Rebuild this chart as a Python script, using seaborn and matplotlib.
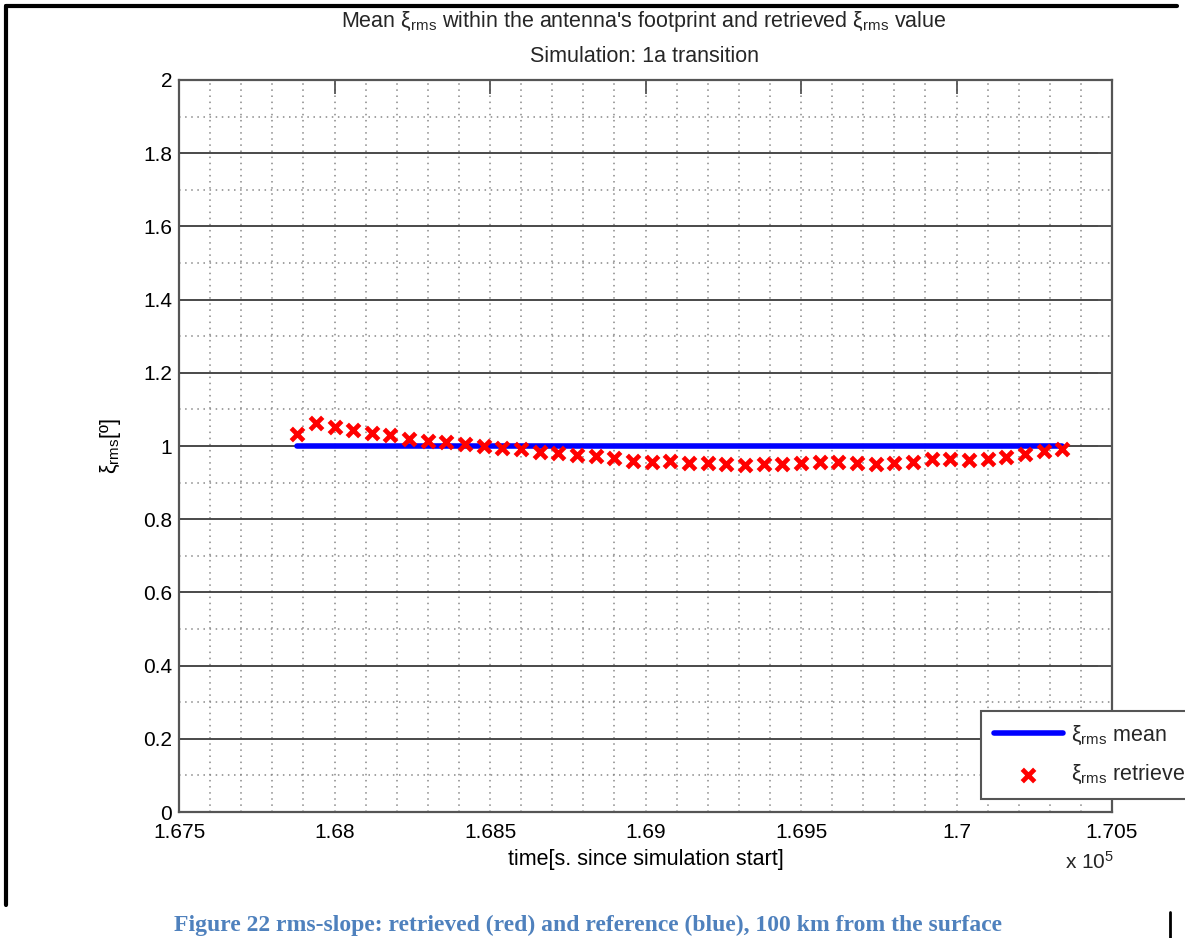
import matplotlib
matplotlib.use("Agg")
import matplotlib.pyplot as plt
from matplotlib.lines import Line2D
from matplotlib.ticker import MultipleLocator
import seaborn as sns
import pandas as pd

# Retrieval epochs [s since simulation start] and retrieved rms-slope [deg]
time_s = [167880, 167940, 168000, 168060, 168120, 168180, 168240, 168300,
          168360, 168420, 168480, 168540, 168600, 168660, 168720, 168780,
          168840, 168900, 168960, 169020, 169080, 169140, 169200, 169260,
          169320, 169380, 169440, 169500, 169560, 169620, 169680, 169740,
          169800, 169860, 169920, 169980, 170040, 170100, 170160, 170220,
          170280, 170340]
xi_retrieved = [1.034, 1.062, 1.052, 1.044, 1.035, 1.029, 1.018, 1.014,
                1.011, 1.005, 1.000, 0.994, 0.991, 0.984, 0.980, 0.975,
                0.973, 0.966, 0.959, 0.957, 0.959, 0.954, 0.954, 0.950,
                0.948, 0.952, 0.950, 0.954, 0.957, 0.956, 0.953, 0.952,
                0.953, 0.957, 0.965, 0.964, 0.962, 0.964, 0.970, 0.979,
                0.986, 0.993]
# Mean rms-slope inside the antenna footprint
mean_time = [167880, 170340]
xi_mean = [1.0, 1.0]

x_ticks = [1.675, 1.68, 1.685, 1.69, 1.695, 1.7, 1.705]
y_ticks = [0, 0.2, 0.4, 0.6, 0.8, 1, 1.2, 1.4, 1.6, 1.8, 2]

sns.set_theme(style="white")
plt.rcParams["font.family"] = ["Liberation Sans", "DejaVu Sans"]
plt.rcParams["mathtext.fontset"] = "custom"
plt.rcParams["mathtext.rm"] = "Liberation Sans"
plt.rcParams["mathtext.it"] = "Liberation Sans:italic"
plt.rcParams["mathtext.bf"] = "Liberation Sans:bold"

FS = 15

W, H = 1185, 938
fig = plt.figure(figsize=(W / 100, H / 100), dpi=100)
fig.patch.set_facecolor("white")

L, R, T, B = 179, 1112, 80, 812
ax = fig.add_axes([L / W, 1 - B / H, (R - L) / W, (B - T) / H])
ax.set_facecolor("white")

mean_df = pd.DataFrame({"t": mean_time, "xi": xi_mean})
ret_df = pd.DataFrame({"t": time_s, "xi": xi_retrieved})

lab = "ξ$_{\\mathrm{rms}}$"
sns.lineplot(data=mean_df, x="t", y="xi", ax=ax, color="#0000ff",
             linewidth=4, label=lab + " mean", zorder=4)
sns.scatterplot(data=ret_df, x="t", y="xi", ax=ax, marker="x", color="#ff0000",
                s=80, linewidth=3.4, label=lab + " retrieved", zorder=5)

ax.set_xlim(167500, 170500)
ax.set_ylim(0, 2)
ax.set_xticks([v * 1e5 for v in x_ticks])
ax.set_xticklabels([f"{v:g}" for v in x_ticks])
ax.set_yticks(y_ticks)
ax.set_yticklabels([f"{v:g}" for v in y_ticks])
ax.xaxis.set_minor_locator(MultipleLocator(100))
ax.yaxis.set_minor_locator(MultipleLocator(0.1))

grid_c = "#3a3a3a"
ax.grid(False)
ax.grid(True, which="major", axis="y", color=grid_c, linestyle="-", linewidth=1.3, zorder=1)
ax.grid(True, which="major", axis="x", color="#888888", linestyle=(0, (1, 3)), linewidth=1.1, zorder=1)
ax.grid(True, which="minor", axis="both", color="#888888", linestyle=(0, (1, 3)), linewidth=1.1, zorder=1)
ax.set_axisbelow(True)

for s in ax.spines.values():
    s.set_color("#555555")
    s.set_linewidth(1.6)

ax.tick_params(axis="both", which="major", direction="in", length=10, width=1.3,
               color="#555555", top=True, right=True, labelsize=FS,
               labelcolor="black")
ax.tick_params(axis="both", which="minor", length=0)
ax.tick_params(axis="x", pad=8)
ax.tick_params(axis="y", pad=5)

ax.set_xlabel("time[s. since simulation start]", fontsize=FS + 0.5, color="black", labelpad=5)
ax.set_ylabel(lab + "[º]", fontsize=FS + 0.5, color="black", labelpad=14)

fig.text(1065 / W, 1 - 862 / H, "x 10$^{5}$", fontsize=FS, ha="left", va="center")

fig.text(0.5 * (340 + 948) / W, 1 - 22 / H,
         "Mean " + lab + " within the antenna's footprint and retrieved " + lab + " value",
         fontsize=FS + 0.5, ha="center", va="center")
fig.text(0.5 * (340 + 948) / W, 1 - 56 / H, "Simulation: 1a transition",
         fontsize=FS + 0.5, ha="center", va="center")

leg = ax.legend(loc="upper left", bbox_to_anchor=(981 / W, 1 - 711 / H),
                bbox_transform=fig.transFigure, borderaxespad=0, fontsize=FS + 0.5,
                frameon=True, fancybox=False, edgecolor="#555555",
                handlelength=3.2, handletextpad=0.4, labelspacing=0.75,
                borderpad=0.6)
leg.get_frame().set_linewidth(1.5)
leg.get_frame().set_facecolor("white")
leg.get_frame().set_alpha(1)

# Document page frame around the figure
fig.add_artist(Line2D([6 / W, 1177 / W], [1 - 6 / H, 1 - 6 / H],
                      transform=fig.transFigure, color="black", linewidth=3))
fig.add_artist(Line2D([6 / W, 6 / W], [1 - 6 / H, 1 - 905 / H],
                      transform=fig.transFigure, color="black", linewidth=3))
fig.add_artist(Line2D([1170 / W, 1170 / W], [1 - 912 / H, 0],
                      transform=fig.transFigure, color="black", linewidth=2))

fig.text(588 / W, 1 - 925 / H,
         "Figure 22 rms-slope: retrieved (red) and reference (blue), 100 km from the surface",
         family=["Liberation Serif", "DejaVu Serif"], fontweight="bold",
         color="#4f81bd", fontsize=17, ha="center", va="center")

fig.savefig("out.png", dpi=100, facecolor="white")
